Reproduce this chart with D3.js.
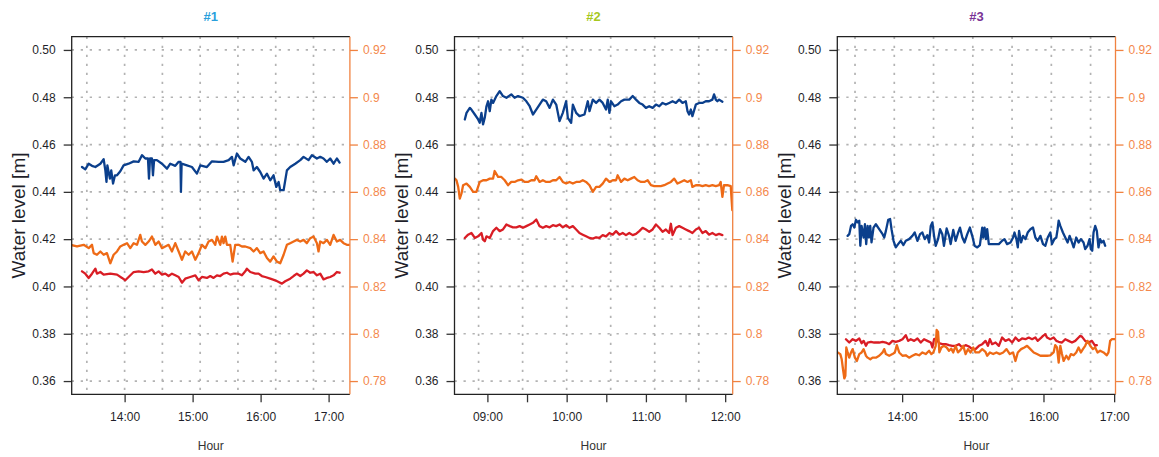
<!DOCTYPE html>
<html><head><meta charset="utf-8">
<script src="https://cdn.jsdelivr.net/npm/d3@7"></script>
<style>
body{margin:0;background:#fff}
svg{display:block}
text{font-family:"Liberation Sans",Arial,sans-serif}
</style>
</head><body>
<svg id="c" width="1159" height="457"></svg>
<script>
// ---------------- DATA ----------------
const panelTitles = ["#1", "#2", "#3"];
const baseHours = [13, 8, 13];           // series times are minutes after this hour
const leftTicks = [0.50, 0.48, 0.46, 0.44, 0.42, 0.40, 0.38, 0.36];
const rightTicks = [0.92, 0.90, 0.88, 0.86, 0.84, 0.82, 0.80, 0.78];
const xTickLabels = [
  ["14:00", "15:00", "16:00", "17:00"],
  ["09:00", "10:00", "11:00", "12:00"],
  ["14:00", "15:00", "16:00", "17:00"]
];
const xMinorTicks = [[], ["09:30", "10:30", "11:30"], []];
const gridTimes = [
  ["13:26:40", "14:00:00", "14:33:20", "15:06:40", "15:40:00", "16:13:20", "16:46:40"],
  ["08:53:20", "09:26:40", "10:00:00", "10:33:20", "11:06:40", "11:40:00"],
  ["13:20:00", "13:53:20", "14:26:40", "15:00:00", "15:33:20", "16:06:40", "16:40:00"]
];

// Panel 1 (left axis: blue, red ; right axis: orange)
const p1Blue = [[22.4,.4505],[25.3,.4495],[28.3,.4519],[31.2,.4510],[34.2,.4505],[38.6,.4519],[41.5,.4538],[43.0,.4491],[44.0,.4442],[44.8,.4512],[47.0,.4456],[48.2,.4491],[49.8,.4435],[51.5,.4470],[53.3,.4470],[56.2,.4487],[59.1,.4512],[63.5,.4519],[68.0,.4529],[72.4,.4527],[75.3,.4555],[78.3,.4541],[80.6,.4541],[81.5,.4456],[82.4,.4541],[84.1,.4541],[85.0,.4470],[86.0,.4534],[88.5,.4534],[93.0,.4519],[97.4,.4498],[100.3,.4519],[104.7,.4510],[107.7,.4527],[109.3,.4527],[109.7,.4400],[110.3,.4519],[115.0,.4512],[119.4,.4505],[123.8,.4477],[126.8,.4512],[132.6,.4505],[137.1,.4529],[142.9,.4527],[147.3,.4527],[151.8,.4534],[154.7,.4548],[156.2,.4512],[159.1,.4562],[162.0,.4541],[166.5,.4527],[169.4,.4548],[172.3,.4527],[173.8,.4491],[176.7,.4505],[179.7,.4484],[182.6,.4456],[185.6,.4477],[188.5,.4449],[191.4,.4470],[193.8,.4421],[195.9,.4442],[197.3,.4407],[200.3,.4407],[203.2,.4491],[206.1,.4505],[210.6,.4519],[215.0,.4534],[217.9,.4548],[222.3,.4534],[225.3,.4555],[229.7,.4541],[232.6,.4548],[235.5,.4541],[238.5,.4527],[241.4,.4541],[244.4,.4519],[247.3,.4541],[249.7,.4524]];
const p1Red = [[22.4,.4064],[25.3,.4054],[28.3,.4036],[31.2,.4054],[34.2,.4075],[35.6,.4054],[38.6,.4061],[41.5,.4050],[47.4,.4054],[53.3,.4050],[57.7,.4036],[60.6,.4026],[63.5,.4040],[68.0,.4061],[72.4,.4064],[76.8,.4061],[81.2,.4064],[84.1,.4072],[87.1,.4054],[90.0,.4064],[93.0,.4050],[95.9,.4054],[98.8,.4044],[101.8,.4054],[104.7,.4047],[107.7,.4040],[110.6,.4016],[113.5,.4033],[117.9,.4040],[122.4,.4047],[125.3,.4026],[128.2,.4040],[132.6,.4036],[135.6,.4044],[138.5,.4036],[141.5,.4047],[144.4,.4044],[147.3,.4054],[150.3,.4058],[153.2,.4050],[156.2,.4054],[160.6,.4054],[163.5,.4047],[166.5,.4064],[167.9,.4075],[170.9,.4061],[175.3,.4054],[178.2,.4054],[181.1,.4044],[184.1,.4040],[188.5,.4033],[192.9,.4026],[195.9,.4019],[198.8,.4012],[201.7,.4022],[206.1,.4033],[209.1,.4044],[212.0,.4054],[215.0,.4044],[217.9,.4054],[220.8,.4068],[223.8,.4058],[226.7,.4061],[229.7,.4047],[232.6,.4054],[235.5,.4030],[238.5,.4036],[241.4,.4040],[244.4,.4047],[247.3,.4061],[249.7,.4058]];
const p1Orange = [[10,.8376],[12.1,.8376],[18.0,.8369],[23.9,.8376],[28.3,.8362],[31.2,.8376],[32.7,.8341],[35.6,.8334],[38.6,.8348],[41.5,.8334],[44.4,.8341],[47.4,.8298],[50.3,.8334],[53.3,.8348],[56.2,.8369],[59.1,.8376],[62.1,.8383],[65.0,.8362],[68.0,.8383],[70.9,.8376],[73.8,.8418],[75.3,.8390],[78.3,.8376],[81.2,.8390],[84.1,.8411],[87.1,.8376],[90.0,.8390],[93.0,.8362],[95.9,.8369],[98.8,.8376],[101.8,.8348],[104.7,.8383],[107.7,.8348],[110.6,.8313],[113.5,.8348],[116.5,.8334],[119.4,.8348],[122.4,.8313],[125.3,.8341],[128.2,.8376],[131.2,.8362],[134.1,.8390],[137.1,.8397],[140.0,.8376],[141.5,.8411],[144.4,.8376],[145.9,.8411],[147.3,.8383],[148.8,.8411],[150.3,.8376],[153.2,.8376],[155.3,.8305],[157.6,.8376],[160.6,.8376],[163.5,.8369],[166.5,.8369],[170.9,.8362],[173.8,.8348],[176.7,.8362],[179.7,.8341],[182.6,.8348],[185.6,.8320],[188.5,.8305],[191.4,.8327],[194.4,.8305],[197.3,.8298],[200.3,.8334],[203.2,.8376],[206.1,.8383],[209.1,.8390],[212.0,.8397],[215.0,.8390],[217.9,.8397],[220.8,.8383],[223.8,.8404],[226.7,.8411],[229.7,.8383],[231.1,.8348],[232.6,.8390],[235.5,.8383],[238.5,.8397],[241.4,.8376],[244.4,.8418],[247.3,.8390],[250.2,.8397],[253.2,.8383],[256.1,.8376],[260.5,.8376]];

// Panel 2
const p2Blue = [[42.9,.4706],[44.2,.4734],[46.7,.4755],[47.9,.4748],[50.5,.4727],[53.0,.4706],[54.2,.4692],[55.5,.4734],[56.7,.4685],[58.0,.4713],[59.3,.4762],[60.5,.4783],[61.8,.4741],[63.0,.4790],[64.3,.4776],[66.8,.4805],[69.3,.4826],[71.8,.4805],[74.4,.4798],[78.1,.4812],[80.6,.4798],[83.2,.4805],[86.9,.4798],[89.5,.4783],[92.0,.4762],[94.5,.4727],[97.0,.4748],[99.5,.4769],[102.0,.4790],[104.5,.4783],[107.1,.4755],[109.6,.4790],[112.1,.4769],[114.6,.4699],[117.1,.4734],[119.6,.4783],[120.9,.4713],[123.4,.4692],[124.7,.4769],[127.2,.4734],[129.7,.4720],[133.5,.4727],[136.0,.4783],[137.3,.4741],[139.8,.4790],[142.3,.4776],[144.8,.4790],[147.3,.4776],[149.8,.4748],[151.1,.4790],[152.4,.4734],[153.6,.4783],[156.1,.4762],[158.6,.4769],[161.2,.4783],[163.7,.4790],[167.4,.4790],[170.0,.4805],[172.5,.4790],[175.0,.4776],[177.5,.4769],[180.0,.4755],[182.5,.4762],[185.1,.4755],[187.6,.4769],[190.1,.4762],[192.6,.4776],[195.1,.4769],[197.6,.4776],[200.2,.4783],[202.7,.4776],[205.2,.4790],[207.7,.4776],[210.2,.4783],[211.5,.4741],[212.7,.4727],[214.0,.4748],[215.2,.4720],[217.8,.4769],[220.3,.4776],[222.8,.4776],[225.3,.4783],[227.8,.4783],[230.3,.4790],[231.6,.4812],[232.9,.4790],[234.1,.4783],[235.4,.4790],[237.9,.4781]];
const p2Red = [[42.9,.4205],[45.4,.4219],[47.9,.4226],[50.5,.4205],[53.0,.4212],[55.5,.4226],[56.7,.4198],[58.0,.4191],[59.3,.4212],[61.8,.4205],[64.3,.4234],[66.8,.4248],[69.3,.4234],[71.8,.4241],[74.4,.4262],[76.9,.4255],[79.4,.4250],[81.9,.4250],[84.4,.4255],[86.9,.4248],[89.5,.4255],[92.0,.4262],[94.5,.4269],[97.0,.4283],[99.5,.4255],[102.0,.4248],[104.5,.4255],[107.1,.4250],[109.6,.4259],[112.1,.4255],[114.6,.4262],[117.1,.4250],[119.6,.4259],[122.2,.4248],[124.7,.4255],[127.2,.4241],[129.7,.4226],[132.2,.4219],[134.7,.4212],[137.3,.4205],[139.8,.4202],[142.3,.4208],[144.8,.4205],[147.3,.4217],[149.8,.4212],[152.4,.4226],[154.9,.4219],[157.4,.4234],[159.9,.4219],[162.4,.4226],[164.9,.4217],[167.4,.4226],[170.0,.4217],[172.5,.4222],[175.0,.4234],[177.5,.4248],[180.0,.4241],[182.5,.4231],[185.1,.4241],[187.6,.4262],[190.1,.4248],[192.6,.4231],[195.1,.4241],[197.6,.4226],[198.9,.4265],[200.2,.4217],[202.7,.4248],[205.2,.4255],[207.7,.4248],[210.2,.4241],[212.7,.4234],[215.2,.4226],[217.8,.4241],[220.3,.4248],[222.8,.4226],[225.3,.4234],[227.8,.4219],[230.3,.4226],[232.9,.4217],[235.4,.4222],[237.9,.4217]];
const p2Orange = [[33,.8656],[35.4,.8656],[36.6,.8649],[37.9,.8621],[39.1,.8571],[40.4,.8593],[41.6,.8628],[44.2,.8635],[46.7,.8621],[49.2,.8600],[51.7,.8600],[54.2,.8642],[56.7,.8649],[59.3,.8649],[61.8,.8656],[64.3,.8656],[65.5,.8688],[68.1,.8663],[70.6,.8663],[73.1,.8649],[75.6,.8628],[78.1,.8642],[80.6,.8642],[83.2,.8649],[85.7,.8652],[88.2,.8642],[90.7,.8642],[93.2,.8649],[95.7,.8649],[97.0,.8666],[99.5,.8642],[102.0,.8649],[104.5,.8642],[107.1,.8642],[109.6,.8649],[112.1,.8649],[114.6,.8663],[117.1,.8642],[119.6,.8635],[122.2,.8642],[124.7,.8635],[127.2,.8642],[129.7,.8642],[132.2,.8649],[134.7,.8642],[137.3,.8628],[139.8,.8600],[142.3,.8621],[144.8,.8621],[147.3,.8635],[149.8,.8656],[152.4,.8642],[154.9,.8649],[157.4,.8649],[158.6,.8670],[161.2,.8642],[163.7,.8656],[166.2,.8649],[168.7,.8656],[171.2,.8663],[173.7,.8649],[176.3,.8642],[178.8,.8642],[181.3,.8649],[183.8,.8628],[186.3,.8624],[188.8,.8624],[191.3,.8624],[193.9,.8628],[196.4,.8635],[198.9,.8642],[201.4,.8656],[203.9,.8635],[206.4,.8642],[209.0,.8649],[211.5,.8642],[214.0,.8649],[215.2,.8621],[217.8,.8628],[220.3,.8628],[222.8,.8624],[225.3,.8628],[227.8,.8624],[230.3,.8628],[232.9,.8624],[235.4,.8628],[236.6,.8642],[237.9,.8579],[239.1,.8628],[241.7,.8628],[244.2,.8624],[245.4,.8522],[247,.8522]];

// Panel 3
const p3Blue = [[13.7,.4214],[15.1,.4221],[16.6,.4256],[18.0,.4263],[19.4,.4249],[20.8,.4282],[22.2,.4271],[23.6,.4278],[24.5,.4172],[25.6,.4256],[27.3,.4207],[28.4,.4263],[29.5,.4179],[30.7,.4256],[31.8,.4207],[32.9,.4256],[34.0,.4186],[35.7,.4249],[37.7,.4263],[40.5,.4242],[43.4,.4221],[44.8,.4207],[46.2,.4235],[48.2,.4282],[49.8,.4285],[51.0,.4242],[52.7,.4193],[54.6,.4165],[56.6,.4179],[58.9,.4193],[61.1,.4175],[63.1,.4193],[65.9,.4200],[68.7,.4214],[70.7,.4228],[73.0,.4193],[75.2,.4221],[77.2,.4228],[79.2,.4200],[81.4,.4217],[82.9,.4186],[84.3,.4256],[85.7,.4271],[87.1,.4214],[88.5,.4172],[90.5,.4200],[92.2,.4242],[94.1,.4221],[95.5,.4172],[97.8,.4245],[99.8,.4214],[101.2,.4179],[103.4,.4239],[105.4,.4193],[107.4,.4225],[109.1,.4249],[111.1,.4207],[113.0,.4186],[115.3,.4221],[117.5,.4249],[119.5,.4214],[121.5,.4172],[123.8,.4165],[126.0,.4175],[128.0,.4249],[128.8,.4207],[130.0,.4249],[131.1,.4200],[132.2,.4242],[133.6,.4179],[136.4,.4179],[139.3,.4179],[142.1,.4179],[144.9,.4193],[146.9,.4200],[149.1,.4179],[152.0,.4186],[154.2,.4207],[155.4,.4228],[157.0,.4200],[158.2,.4165],[159.3,.4235],[161.0,.4186],[162.7,.4214],[164.7,.4200],[166.6,.4228],[168.9,.4242],[171.1,.4249],[173.1,.4207],[175.1,.4193],[177.4,.4214],[179.6,.4179],[181.6,.4172],[183.6,.4207],[185.8,.4228],[187.2,.4179],[189.2,.4200],[190.9,.4207],[192.0,.4242],[192.9,.4278],[194.3,.4256],[196.5,.4228],[198.5,.4207],[200.5,.4186],[202.2,.4214],[204.2,.4186],[205.6,.4165],[207.8,.4207],[209.8,.4186],[211.8,.4200],[214.0,.4186],[215.4,.4158],[217.4,.4172],[219.1,.4200],[220.2,.4158],[221.4,.4151],[222.5,.4228],[223.9,.4256],[225.3,.4235],[226.7,.4165],[228.1,.4200],[229.5,.4186],[231.0,.4193],[232.4,.4172]];
const p3Red = [[12.3,.3777],[15.1,.3763],[18.0,.3777],[20.8,.3770],[23.6,.3780],[25.6,.3760],[27.3,.3770],[29.3,.3749],[30.7,.3763],[33.5,.3766],[36.3,.3763],[40.5,.3763],[43.4,.3766],[46.2,.3763],[49.0,.3756],[51.8,.3770],[54.6,.3766],[57.5,.3770],[60.3,.3777],[63.1,.3794],[65.1,.3770],[67.3,.3777],[70.2,.3770],[73.0,.3780],[75.8,.3763],[78.6,.3777],[81.4,.3770],[84.3,.3763],[85.7,.3742],[87.1,.3777],[89.3,.3780],[91.3,.3760],[94.1,.3756],[97.0,.3756],[99.8,.3752],[102.6,.3749],[105.4,.3749],[108.2,.3756],[111.1,.3742],[113.9,.3752],[116.7,.3746],[119.5,.3735],[122.3,.3735],[125.2,.3749],[128.0,.3756],[130.8,.3770],[132.8,.3749],[134.5,.3777],[136.4,.3756],[139.3,.3763],[142.1,.3749],[144.9,.3784],[147.7,.3770],[150.6,.3777],[153.4,.3763],[156.2,.3784],[159.0,.3770],[161.8,.3780],[164.7,.3777],[167.5,.3784],[170.3,.3777],[173.1,.3784],[175.1,.3770],[177.4,.3780],[179.6,.3791],[181.6,.3798],[183.0,.3784],[185.8,.3777],[188.6,.3784],[190.9,.3770],[192.9,.3766],[195.7,.3763],[198.5,.3777],[201.3,.3770],[204.2,.3763],[207.0,.3770],[209.8,.3784],[211.2,.3791],[212.6,.3788],[215.4,.3770],[218.2,.3763],[221.1,.3770],[223.9,.3749],[225.3,.3752]];
const p3Orange = [[2.45,.7921],[5.3,.7921],[7.5,.7914],[8.7,.7892],[9.8,.7850],[10.9,.7811],[11.8,.7822],[12.6,.7942],[13.7,.7921],[15.1,.7899],[16.6,.7921],[18.0,.7935],[19.9,.7899],[21.6,.7885],[23.6,.7914],[25.6,.7921],[27.3,.7935],[29.3,.7907],[30.7,.7899],[33.0,.7892],[34.9,.7899],[37.7,.7899],[40.5,.7907],[43.4,.7921],[44.8,.7935],[46.2,.7914],[49.0,.7907],[51.8,.7914],[53.8,.7921],[55.5,.7952],[57.5,.7921],[60.3,.7907],[63.1,.7909],[65.9,.7899],[68.7,.7907],[71.6,.7914],[74.4,.7909],[77.2,.7921],[80.0,.7914],[82.9,.7928],[84.8,.7914],[86.5,.7921],[88.5,.7949],[89.3,.8016],[90.5,.8008],[91.6,.7921],[93.3,.7942],[95.5,.7949],[97.8,.7942],[99.8,.7928],[101.7,.7937],[103.4,.7921],[105.4,.7949],[107.4,.7921],[109.6,.7932],[111.9,.7949],[113.9,.7914],[115.9,.7935],[118.1,.7921],[120.4,.7942],[122.3,.7921],[125.2,.7921],[128.0,.7935],[130.8,.7923],[132.2,.7907],[134.5,.7921],[137.3,.7914],[140.1,.7921],[143.0,.7914],[145.8,.7921],[148.6,.7935],[151.4,.7914],[154.2,.7921],[156.2,.7885],[158.2,.7921],[161.0,.7935],[163.8,.7942],[166.1,.7949],[168.9,.7935],[171.7,.7921],[174.5,.7914],[177.4,.7907],[180.2,.7907],[183.0,.7907],[185.8,.7909],[188.6,.7921],[190.0,.7952],[191.5,.7942],[192.9,.7878],[194.3,.7949],[195.7,.7914],[197.1,.7885],[199.4,.7907],[201.3,.7892],[203.3,.7914],[205.6,.7909],[207.8,.7921],[209.8,.7942],[211.8,.7921],[213.5,.7935],[215.4,.7949],[217.4,.7970],[219.7,.7949],[221.9,.7935],[223.9,.7942],[225.9,.7921],[228.1,.7928],[231.0,.7921],[233.8,.7909],[235.2,.7921],[236.6,.7970],[238.0,.7977],[240.8,.7977]];

const blueSeries = [p1Blue, p2Blue, p3Blue];
const redSeries = [p1Red, p2Red, p3Red];
const orangeSeries = [p1Orange, p2Orange, p3Orange];

// ---------------- STYLE / LAYOUT ----------------
const titleColors = ["#2a9fdc", "#a6c81e", "#7a3396"];
const cBlue = "#0b3f8c", cRed = "#d91d25", cOrange = "#ee6a16";
const cAxisR = "#f08240", cAxisRText = "#f4884c";
const boxLeft = [71.7, 454.5, 837.3], boxW = 278.2, boxTop = 36.7, boxBot = 394.3;

const svg = d3.select("#c");
const tm = (base, m) => new Date(2020, 0, 1, base, 0, 0, Math.round(m * 60000));
const hm = s => { const p = s.split(":").map(Number); return new Date(2020, 0, 1, p[0], p[1], p[2] || 0); };
const pad = (lo, hi) => { const d = (hi - lo) * 0.04; return [lo - d, hi + d]; };

const yL = d3.scaleLinear().domain(pad(d3.min(leftTicks), d3.max(leftTicks))).range([boxBot, boxTop]);
const yR = d3.scaleLinear().domain(pad(d3.min(rightTicks), d3.max(rightTicks))).range([boxBot, boxTop]);

panelTitles.forEach((title, i) => {
  const base = baseHours[i];
  const L = boxLeft[i], R = L + boxW;
  const ext = d3.extent(blueSeries[i], d => d[0]);
  const xd = pad(ext[0], ext[1]);
  const x = d3.scaleTime().domain([tm(base, xd[0]), tm(base, xd[1])]).range([L, R]);
  const g = svg.append("g");

  const clipId = "clip" + i;
  svg.append("clipPath").attr("id", clipId).append("rect")
    .attr("x", L).attr("y", boxTop).attr("width", boxW).attr("height", boxBot - boxTop);

  // grid
  const grid = g.append("g").attr("stroke", "#b3b3b3").attr("stroke-width", 1.7)
    .attr("stroke-dasharray", "2.3,6.7").attr("fill", "none");
  grid.selectAll("line.h").data(leftTicks).join("line")
    .attr("x1", L).attr("x2", R).attr("y1", d => yL(d)).attr("y2", d => yL(d));
  grid.selectAll("line.v").data(gridTimes[i].map(hm)).join("line")
    .attr("y1", boxTop).attr("y2", boxBot).attr("x1", d => x(d)).attr("x2", d => x(d));

  // lines
  const lineL = d3.line().x(d => x(tm(base, d[0]))).y(d => yL(d[1]));
  const lineR = d3.line().x(d => x(tm(base, d[0]))).y(d => yR(d[1]));
  const lg = g.append("g").attr("clip-path", `url(#${clipId})`).attr("fill", "none")
    .attr("stroke-width", 2.3).attr("stroke-linejoin", "round").attr("stroke-linecap", "round");
  lg.append("path").attr("d", lineL(blueSeries[i])).attr("stroke", cBlue);
  lg.append("path").attr("d", lineL(redSeries[i])).attr("stroke", cRed);
  lg.append("path").attr("d", lineR(orangeSeries[i])).attr("stroke", cOrange);

  // left axis
  const ax = g.append("g").attr("transform", `translate(${L},0)`)
    .call(d3.axisLeft(yL).tickValues(leftTicks).tickFormat(d3.format(".2f")).tickSize(8).tickPadding(8));
  ax.select(".domain").remove();
  ax.selectAll("line").attr("stroke", "#333").attr("stroke-width", 1.3);
  ax.selectAll("text").attr("font-size", 12).attr("fill", "#1f1f2a");

  // right axis
  const axr = g.append("g").attr("transform", `translate(${R},0)`)
    .call(d3.axisRight(yR).tickValues(rightTicks).tickFormat(d => String(+d.toFixed(2))).tickSize(8).tickPadding(5));
  axr.select(".domain").remove();
  axr.selectAll("line").attr("stroke", cAxisR).attr("stroke-width", 1.3);
  axr.selectAll("text").attr("font-size", 12).attr("fill", cAxisRText);

  // bottom axis
  const axb = g.append("g").attr("transform", `translate(0,${boxBot})`)
    .call(d3.axisBottom(x).tickValues(xTickLabels[i].map(hm)).tickFormat(d3.timeFormat("%H:%M")).tickSize(8).tickPadding(10));
  axb.select(".domain").remove();
  axb.selectAll("line").attr("stroke", "#333").attr("stroke-width", 1.3);
  axb.selectAll("text").attr("font-size", 12).attr("fill", "#1f1f2a");
  if (xMinorTicks[i].length) {
    const axm = g.append("g").attr("transform", `translate(0,${boxBot})`)
      .call(d3.axisBottom(x).tickValues(xMinorTicks[i].map(hm)).tickFormat("").tickSize(8));
    axm.select(".domain").remove();
    axm.selectAll("line").attr("stroke", "#333").attr("stroke-width", 1.3);
  }

  // box
  g.append("path").attr("d", `M${R},${boxTop}H${L}V${boxBot}H${R}`)
    .attr("fill", "none").attr("stroke", "#222").attr("stroke-width", 1.3);
  g.append("line").attr("x1", R).attr("x2", R).attr("y1", boxTop).attr("y2", boxBot)
    .attr("stroke", cAxisR).attr("stroke-width", 1.3);

  // titles and labels
  const cx = (L + R) / 2;
  g.append("text").attr("x", cx).attr("y", 21).attr("text-anchor", "middle")
    .attr("font-size", 13).attr("font-weight", "bold").attr("fill", titleColors[i]).text(title);
  g.append("text").attr("x", cx).attr("y", 450).attr("text-anchor", "middle")
    .attr("font-size", 12).attr("fill", "#333").text("Hour");
  g.append("text").attr("transform", `translate(${L - 53},${(boxTop + boxBot) / 2}) rotate(-90)`)
    .attr("text-anchor", "middle").attr("dy", "0.35em")
    .attr("font-size", 19).attr("fill", "#1f1f2a").text("Water level [m]");
});
</script>
</body></html>
